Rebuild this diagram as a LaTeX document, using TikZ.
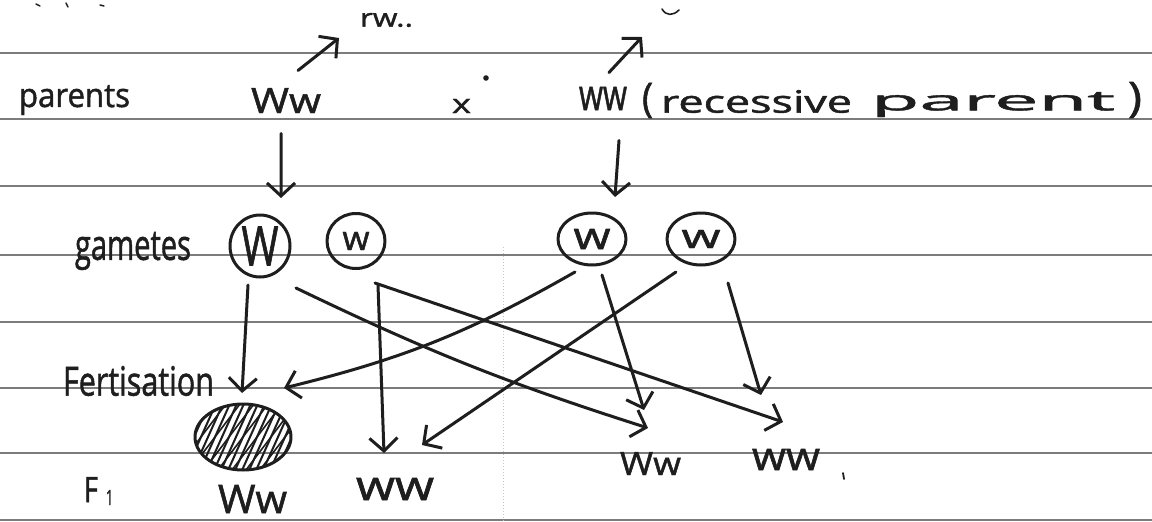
\documentclass[tikz,border=0pt]{standalone}
\usepackage{fontspec}
\setmainfont{Open Sans}[RawFeature={embolden=1.4}]
\usepackage{graphicx}
\usetikzlibrary{arrows.meta,shapes.geometric}
\newcommand{\hw}[3]{\resizebox*{#1pt}{#2pt}{#3}}
\definecolor{pen}{HTML}{1E1E1E}
\definecolor{rulec}{HTML}{7C7C7C}
\begin{document}
\begin{tikzpicture}[x=1pt,y=-1pt,
  pen/.style={draw=pen,line width=3pt,line cap=round,line join=round},
  arr/.style={pen,-{Straight Barb[length=13pt,width=28pt]}},
  txt/.style={inner sep=0pt,outer sep=0pt,anchor=north west,text=pen},
  gam/.style={ellipse,pen,inner sep=0pt,text=pen},
  ruling/.style={draw=rulec,line width=1.4pt}]
\fill[white] (0,0) rectangle (1152,522);
\useasboundingbox (0,0) rectangle (1152,522);
% ruled paper
\foreach \y in {53,119,186,255,322,388,453,520} \draw[ruling] (0,\y) -- (1152,\y);
\draw[draw=rulec!45,line width=1pt,dotted] (503,247) -- (503,522);
% cut-off marks at the top
\draw[pen,line width=1.5pt] (36,4) -- (40,6);
\draw[pen,line width=1.5pt] (66,3) -- (68,7);
\draw[pen,line width=1.5pt] (100,5) -- (104,6);
\node[txt] (cut1) at (360,13) {\hw{53}{14}{rw..}};
\draw[pen,line width=1.6pt] (662,9) .. controls (666,16) and (673,16) .. (679,10);
% parents row
\node[txt] (parents) at (19,85) {\hw{111}{30}{parents}};
\node[txt] (pWw) at (251,88) {\hw{70}{25}{Ww}};
\node[txt] (cross) at (452,99) {\hw{19}{14}{x}};
\fill[pen] (486,78) circle (1.5);
\node[txt] (pww) at (579,87) {\hw{48}{23}{ww}};
\node[txt] (lpar) at (642,83) {\hw{11}{35}{(}};
\node[txt] (recess) at (661,90) {\hw{191}{23}{recessive}};
\node[txt] (parent) at (871,92) {\hw{244}{25}{parent}};
\node[txt] (rpar) at (1128,82) {\hw{14}{36}{)}};
% top arrows
\coordinate (tW) at (339,38);
\coordinate (tw) at (642,37);
\draw[arr] ([shift={(12,-30)}]pWw.center) -- (tW);
\draw[arr] ([shift={(6,-26)}]pww.center) -- (tw);
% gametes
\node[txt] (gametes) at (75,232) {\hw{116}{38}{gametes}};
\node[gam,minimum width=60pt,minimum height=62pt] (gW) at (260,246) {\hw{37}{39}{W}};
\node[gam,minimum width=58pt,minimum height=55pt] (gw) at (356,241) {\hw{27}{18}{w}};
\node[gam,minimum width=68pt,minimum height=52pt] (gw1) at (592,239) {\hw{37}{20}{w}};
\node[gam,minimum width=68pt,minimum height=52pt] (gw2) at (701,239) {\hw{39}{18}{w}};
\draw[arr] ([shift={(-5,33)}]pWw.center) -- ([shift={(21,-48)}]gW.center);
\draw[arr] ([shift={(16,42)}]pww.center) -- ([shift={(23,-42)}]gw1.center);
% fertilisation
\node[txt] (fert) at (63,366) {\hw{151}{30}{Fertisation}};
\node[ellipse,pen,minimum width=96pt,minimum height=66pt,inner sep=0pt] (hatch) at (243,437) {};
\begin{scope}
  \clip (243,437) ellipse [x radius=47, y radius=32];
  \foreach \k in {-9,...,9} \draw[pen,line width=2pt] (243+\k*7-18,477) -- ++(36,-80);
  \foreach \k in {-4,...,4} \draw[pen,line width=1.6pt] (243+\k*14-25,470) -- ++(50,-66);
\end{scope}
% F1
\node[txt] (F1) at (84,477) {\hw{14}{25}{F}};
\node[txt] (F1sub) at (106,490) {\hw{7}{15}{1}};
\node[txt] (fWwL) at (218,485) {\hw{69}{28}{Ww}};
\node[txt] (fwwL) at (356,478) {\hw{78}{22}{ww}};
\node[txt] (fWwR) at (620,452) {\hw{61}{23}{Ww}};
\node[txt] (fwwR) at (752,449) {\hw{68}{21}{ww}};
\draw[pen,line width=1.8pt] (843,473) -- (844,479);
% crosses
\draw[arr] ([shift={(-12,39)}]gW.center) -- ([shift={(-1,-44)}]hatch.center);
\draw[arr] ([shift={(36,42)}]gW.center) to[bend right=4] ([shift={(-2.5,-35.5)}]fWwR.center);
\draw[arr] ([shift={(22,44)}]gw.center) -- ([shift={(-11,-36)}]fwwL.center);
\draw[arr] ([shift={(19,42)}]gw.center) -- ([shift={(-3,-37.5)}]fwwR.center);
\draw[arr] ([shift={(-17,33)}]gw1.center) to[bend left=8] ([shift={(41,-49)}]hatch.center);
\draw[arr] ([shift={(10,36)}]gw1.center) -- ([shift={(-6.5,-53.5)}]fWwR.center);
\draw[arr] ([shift={(-25,33)}]gw2.center) -- ([shift={(27,-44)}]fwwL.center);
\draw[arr] ([shift={(27,44)}]gw2.center) -- ([shift={(-25,-64.5)}]fwwR.center);
\end{tikzpicture}
\end{document}
